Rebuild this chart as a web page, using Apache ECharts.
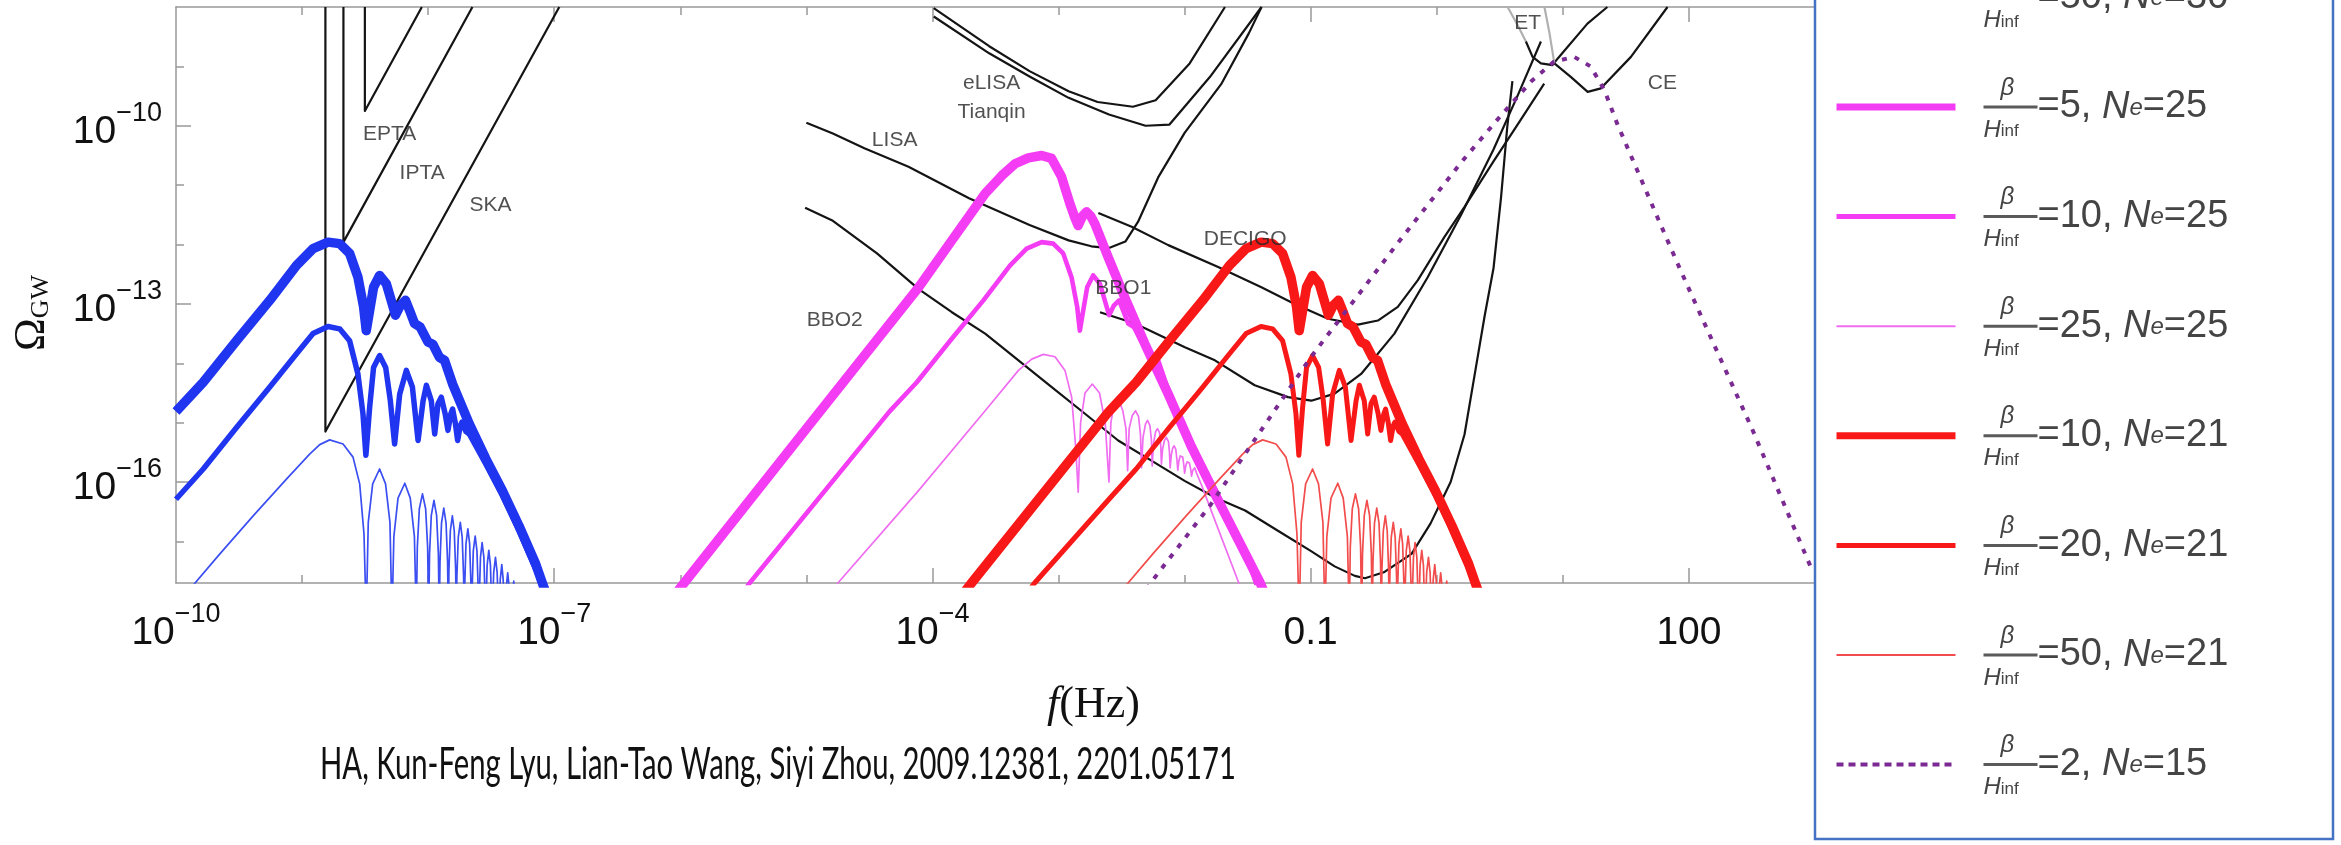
<!DOCTYPE html>
<html><head><meta charset="utf-8">
<script src="https://cdn.jsdelivr.net/npm/echarts@6/dist/echarts.min.js"></script>
<style>html,body{margin:0;padding:0;background:#fff}#c{width:2341px;height:845px}</style>
</head><body><div id="c"></div>
<script>
// ---- axis ticks (log10 exponents) ----
const X_LABEL_EXP = [-10, -7, -4, -1, 2];
const X_MINOR_EXP = [-9, -8, -6, -5, -3, -2, 0, 1];
const Y_LABEL_EXP = [-16, -13, -10];
const Y_MINOR_EXP = [-17, -15, -14, -12, -11, -9];

// ---- legend parameters ----
const LEG_BETA = [10, 20, 50, 5, 10, 25, 10, 20, 50, 2];
const LEG_NE   = [30, 30, 30, 25, 25, 25, 21, 21, 21, 15];

// ---- curves: [log10 f, log10 Omega] ----
const B10_30 = [[-10.0,-14.81],[-9.784,-14.32],[-9.52,-13.62],[-9.256,-12.94],[-9.044,-12.35],[-8.913,-12.07],[-8.794,-11.96],[-8.702,-11.985],[-8.623,-12.15],[-8.557,-12.55],[-8.512,-13.05],[-8.491,-13.45],[-8.464,-13.11],[-8.433,-12.72],[-8.385,-12.52],[-8.332,-12.66],[-8.293,-12.94],[-8.259,-13.19],[-8.222,-13.03],[-8.180,-12.94],[-8.140,-13.15],[-8.108,-13.33],[-8.063,-13.39],[-8.002,-13.64],[-7.963,-13.68],[-7.910,-13.90],[-7.870,-13.95],[-7.806,-14.35],[-7.674,-15.02],[-7.542,-15.61],[-7.410,-16.15],[-7.279,-16.74],[-7.147,-17.38],[-7.081,-17.78],[-7.0,-18.2]];
const B20_30 = [[-10.0,-16.29],[-9.784,-15.78],[-9.52,-15.08],[-9.256,-14.40],[-9.044,-13.84],[-8.913,-13.50],[-8.794,-13.38],[-8.702,-13.42],[-8.623,-13.62],[-8.557,-14.18],[-8.517,-14.85],[-8.494,-15.55],[-8.464,-14.74],[-8.433,-14.07],[-8.385,-13.87],[-8.337,-14.07],[-8.300,-14.63],[-8.266,-15.36],[-8.226,-14.52],[-8.173,-14.12],[-8.125,-14.40],[-8.080,-15.30],[-8.040,-14.63],[-8.014,-14.37],[-7.975,-14.63],[-7.948,-15.19],[-7.922,-14.68],[-7.896,-14.57],[-7.865,-14.85],[-7.843,-15.13],[-7.820,-14.85],[-7.806,-14.77],[-7.785,-15.0],[-7.766,-15.30],[-7.745,-15.05],[-7.732,-14.99],[-7.700,-15.15],[-7.674,-15.19],[-7.542,-15.70],[-7.410,-16.23],[-7.279,-16.82],[-7.147,-17.47],[-7.090,-17.78],[-7.0,-18.3]];
const B50_30 = [[-9.95,-18.2],[-9.889,-17.80],[-9.652,-17.21],[-9.388,-16.57],[-9.124,-15.95],[-8.94,-15.53],[-8.86,-15.37],[-8.781,-15.29],[-8.675,-15.36],[-8.596,-15.58],[-8.543,-16.03],[-8.509,-16.87],[-8.491,-18.3],
 [-8.475,-16.68],[-8.44,-16.03],[-8.385,-15.78],[-8.338,-16.03],[-8.303,-16.68],[-8.287,-18.3],
 [-8.272,-16.92],[-8.239,-16.27],[-8.185,-16.02],[-8.142,-16.27],[-8.109,-16.92],[-8.094,-18.3],
 [-8.086,-17.1],[-8.07,-16.45],[-8.045,-16.20],[-8.02,-16.45],[-8.004,-17.1],[-7.996,-18.3],
 [-7.989,-17.21],[-7.975,-16.56],[-7.954,-16.31],[-7.933,-16.56],[-7.919,-17.21],[-7.912,-18.3],
 [-7.906,-17.34],[-7.894,-16.69],[-7.876,-16.44],[-7.858,-16.69],[-7.846,-17.34],[-7.840,-18.3],
 [-7.835,-17.47],[-7.824,-16.82],[-7.808,-16.57],[-7.793,-16.82],[-7.782,-17.47],[-7.777,-18.3],
 [-7.772,-17.58],[-7.761,-16.93],[-7.745,-16.68],[-7.730,-16.93],[-7.719,-17.58],[-7.714,-18.3],
 [-7.709,-17.69],[-7.70,-17.04],[-7.685,-16.79],[-7.671,-17.04],[-7.661,-17.69],[-7.656,-18.3],
 [-7.651,-17.81],[-7.642,-17.16],[-7.627,-16.91],[-7.613,-17.16],[-7.603,-17.81],[-7.598,-18.3],
 [-7.594,-17.92],[-7.585,-17.27],[-7.572,-17.02],[-7.558,-17.27],[-7.549,-17.92],[-7.545,-18.3],
 [-7.541,-18.05],[-7.532,-17.40],[-7.519,-17.15],[-7.506,-17.40],[-7.497,-18.05],[-7.493,-18.3],
 [-7.48,-17.52],[-7.466,-17.27],[-7.453,-17.52],[-7.440,-18.3],
 [-7.428,-17.64],[-7.416,-17.39],[-7.405,-17.64],[-7.393,-18.3],
 [-7.381,-17.78],[-7.369,-17.53],[-7.357,-17.78],[-7.345,-18.3],
 [-7.333,-17.92],[-7.321,-17.67],[-7.309,-17.92],[-7.298,-18.3]];

const M5_25 = [[-6.08,-18.0],[-5.97,-17.7],[-5.0,-15.1],[-4.109,-12.72],[-3.846,-11.93],[-3.582,-11.14],[-3.45,-10.84],[-3.345,-10.64],[-3.24,-10.54],[-3.134,-10.50],[-3.055,-10.55],[-2.976,-10.86],[-2.910,-11.31],[-2.870,-11.55],[-2.844,-11.68],[-2.810,-11.52],[-2.778,-11.45],[-2.745,-11.52],[-2.712,-11.65],[-2.607,-12.21],[-2.475,-12.89],[-2.316,-13.67],[-2.132,-14.51],[-1.947,-15.40],[-1.734,-16.31],[-1.40,-17.7],[-1.30,-18.2]];
const M10_25 = [[-5.55,-18.0],[-5.45,-17.7],[-4.34,-14.81],[-4.124,-14.32],[-3.86,-13.62],[-3.596,-12.94],[-3.384,-12.35],[-3.253,-12.07],[-3.134,-11.96],[-3.042,-11.985],[-2.963,-12.15],[-2.897,-12.55],[-2.852,-13.05],[-2.831,-13.45],[-2.804,-13.11],[-2.773,-12.72],[-2.725,-12.52],[-2.672,-12.66],[-2.633,-12.94],[-2.599,-13.19],[-2.562,-13.03],[-2.520,-12.94],[-2.480,-13.15],[-2.448,-13.33],[-2.403,-13.39],[-2.342,-13.64],[-2.303,-13.68],[-2.250,-13.90],[-2.210,-13.95],[-2.146,-14.35],[-2.014,-15.02],[-1.882,-15.61],[-1.750,-16.15],[-1.619,-16.74],[-1.487,-17.38],[-1.421,-17.78],[-1.34,-18.2]];
const M25_25 = [[-4.85,-18.0],[-4.75,-17.7],[-4.109,-16.14],[-3.582,-14.80],[-3.318,-14.12],[-3.213,-13.93],[-3.120,-13.85],[-3.028,-13.89],[-2.949,-14.12],[-2.896,-14.57],[-2.864,-15.41],[-2.844,-16.17],
 [-2.825,-15.0],[-2.79,-14.5],[-2.732,-14.35],[-2.675,-14.5],[-2.63,-15.0],[-2.600,-16.00],
 [-2.585,-15.0],[-2.565,-14.75],[-2.526,-14.60],[-2.49,-14.8],[-2.465,-15.1],[-2.452,-15.81],
 [-2.44,-15.1],[-2.415,-14.88],[-2.389,-14.80],[-2.365,-14.9],[-2.35,-15.2],[-2.342,-15.76],
 [-2.33,-15.25],[-2.31,-15.02],[-2.294,-14.96],[-2.275,-15.05],[-2.263,-15.3],[-2.257,-15.73],
 [-2.247,-15.35],[-2.23,-15.15],[-2.215,-15.10],[-2.198,-15.17],[-2.189,-15.4],[-2.184,-15.70],
 [-2.175,-15.45],[-2.16,-15.3],[-2.144,-15.25],[-2.128,-15.32],[-2.12,-15.5],[-2.115,-15.76],
 [-2.106,-15.55],[-2.095,-15.43],[-2.083,-15.39],[-2.07,-15.45],[-2.062,-15.6],[-2.054,-15.80],
 [-2.046,-15.65],[-2.035,-15.56],[-2.025,-15.53],[-2.015,-15.58],[-2.007,-15.7],[-2.0,-15.85],
 [-1.99,-15.72],[-1.98,-15.66],[-1.972,-15.64],[-1.962,-15.68],[-1.952,-15.78],[-1.945,-15.9],
 [-1.935,-15.8],[-1.92,-15.76],[-1.905,-15.85],[-1.866,-16.05],[-1.75,-16.7],[-1.57,-17.7],[-1.50,-18.2]];

const R10_21 = [[-3.80,-18.0],[-3.69,-17.7],[-2.60,-14.81],[-2.384,-14.32],[-2.12,-13.62],[-1.856,-12.94],[-1.644,-12.35],[-1.513,-12.07],[-1.394,-11.96],[-1.302,-11.985],[-1.223,-12.15],[-1.157,-12.55],[-1.112,-13.05],[-1.091,-13.45],[-1.064,-13.11],[-1.033,-12.72],[-0.985,-12.52],[-0.932,-12.66],[-0.893,-12.94],[-0.859,-13.19],[-0.822,-13.03],[-0.780,-12.94],[-0.740,-13.15],[-0.708,-13.33],[-0.663,-13.39],[-0.602,-13.64],[-0.563,-13.68],[-0.510,-13.90],[-0.470,-13.95],[-0.406,-14.35],[-0.274,-15.02],[-0.142,-15.61],[-0.010,-16.15],[0.121,-16.74],[0.253,-17.38],[0.319,-17.78],[0.40,-18.2]];
const R20_21 = [[-3.30,-18.0],[-3.19,-17.7],[-2.60,-16.29],[-2.384,-15.78],[-2.12,-15.08],[-1.856,-14.40],[-1.644,-13.84],[-1.513,-13.50],[-1.394,-13.38],[-1.302,-13.42],[-1.223,-13.62],[-1.157,-14.18],[-1.117,-14.85],[-1.094,-15.55],[-1.064,-14.74],[-1.033,-14.07],[-0.985,-13.87],[-0.937,-14.07],[-0.900,-14.63],[-0.866,-15.36],[-0.826,-14.52],[-0.773,-14.12],[-0.725,-14.40],[-0.680,-15.30],[-0.640,-14.63],[-0.614,-14.37],[-0.575,-14.63],[-0.548,-15.19],[-0.522,-14.68],[-0.496,-14.57],[-0.465,-14.85],[-0.443,-15.13],[-0.420,-14.85],[-0.406,-14.77],[-0.385,-15.0],[-0.366,-15.30],[-0.345,-15.05],[-0.332,-14.99],[-0.300,-15.15],[-0.274,-15.19],[-0.142,-15.70],[-0.010,-16.23],[0.121,-16.82],[0.253,-17.47],[0.310,-17.78],[0.40,-18.3]];
const R50_21 = [[-2.55,-18.2],[-2.489,-17.80],[-2.252,-17.21],[-1.988,-16.57],[-1.724,-15.95],[-1.54,-15.53],[-1.46,-15.37],[-1.381,-15.29],[-1.275,-15.36],[-1.196,-15.58],[-1.143,-16.03],[-1.109,-16.87],[-1.091,-18.3],
 [-1.075,-16.68],[-1.04,-16.03],[-0.985,-15.78],[-0.938,-16.03],[-0.903,-16.68],[-0.887,-18.3],
 [-0.872,-16.92],[-0.839,-16.27],[-0.785,-16.02],[-0.742,-16.27],[-0.709,-16.92],[-0.694,-18.3],
 [-0.686,-17.1],[-0.67,-16.45],[-0.645,-16.20],[-0.62,-16.45],[-0.604,-17.1],[-0.596,-18.3],
 [-0.589,-17.21],[-0.575,-16.56],[-0.554,-16.31],[-0.533,-16.56],[-0.519,-17.21],[-0.512,-18.3],
 [-0.506,-17.34],[-0.494,-16.69],[-0.476,-16.44],[-0.458,-16.69],[-0.446,-17.34],[-0.440,-18.3],
 [-0.435,-17.47],[-0.424,-16.82],[-0.408,-16.57],[-0.393,-16.82],[-0.382,-17.47],[-0.377,-18.3],
 [-0.372,-17.58],[-0.361,-16.93],[-0.345,-16.68],[-0.330,-16.93],[-0.319,-17.58],[-0.314,-18.3],
 [-0.309,-17.69],[-0.300,-17.04],[-0.285,-16.79],[-0.271,-17.04],[-0.261,-17.69],[-0.256,-18.3],
 [-0.251,-17.81],[-0.242,-17.16],[-0.227,-16.91],[-0.213,-17.16],[-0.203,-17.81],[-0.198,-18.3],
 [-0.194,-17.92],[-0.185,-17.27],[-0.172,-17.02],[-0.158,-17.27],[-0.149,-17.92],[-0.145,-18.3],
 [-0.141,-18.05],[-0.132,-17.40],[-0.119,-17.15],[-0.106,-17.40],[-0.097,-18.05],[-0.093,-18.3],
 [-0.08,-17.52],[-0.066,-17.27],[-0.053,-17.52],[-0.040,-18.3],
 [-0.028,-17.64],[-0.016,-17.39],[-0.005,-17.64],[0.007,-18.3],
 [0.019,-17.78],[0.031,-17.53],[0.043,-17.78],[0.055,-18.3],
 [0.067,-17.92],[0.079,-17.67],[0.091,-17.92],[0.102,-18.3]];
const P2_15 = [[-2.35,-18.0],[-2.27,-17.7],[-1.8,-16.4],[-1.0,-13.9],[-0.3,-11.95],[0.2,-10.6],[0.5,-9.85],[0.75,-9.25],[0.93,-8.92],[1.09,-8.84],[1.22,-9.0],[1.33,-9.4],[1.43,-9.96],[1.59,-10.75],[1.75,-11.54],[1.91,-12.32],[2.03,-12.89],[2.5,-15.1],[2.98,-17.5]];

// ---- detector sensitivity curves ----
const EPTA = [[-8.502,-8.0],[-8.502,-9.75],[-8.05,-8.0]];
const IPTA = [[-8.672,-8.0],[-8.672,-11.96],[-7.649,-8.0]];
const SKA  = [[-8.815,-8.0],[-8.815,-15.15],[-6.96,-8.0]];
const LISA = [[-5.0,-9.95],[-4.79,-10.13],[-4.54,-10.38],[-4.19,-10.69],[-3.71,-11.22],[-3.23,-11.67],[-2.92,-11.93],[-2.74,-12.03],[-2.60,-12.06],[-2.47,-11.95],[-2.37,-11.62],[-2.21,-10.87],[-2.0,-10.12],[-1.71,-9.3],[-1.49,-8.44],[-1.39,-8.0]];
const ELISA = [[-3.99,-8.02],[-3.55,-8.66],[-3.23,-9.08],[-2.92,-9.42],[-2.69,-9.6],[-2.41,-9.68],[-2.23,-9.57],[-1.96,-8.95],[-1.68,-8.0]];
const TIANQIN = [[-3.99,-8.16],[-3.55,-8.78],[-3.23,-9.17],[-2.92,-9.53],[-2.6,-9.81],[-2.31,-10.0],[-2.12,-9.98],[-1.8,-9.18],[-1.39,-8.0]];
const BBO2 = [[-5.01,-11.38],[-4.79,-11.6],[-4.44,-12.15],[-4.109,-12.75],[-3.846,-13.14],[-3.582,-13.50],[-3.318,-13.95],[-3.054,-14.40],[-2.79,-14.85],[-2.527,-15.30],[-2.263,-15.64],[-2.0,-15.98],[-1.75,-16.27],[-1.52,-16.48],[-1.26,-16.82],[-1.0,-17.16],[-0.81,-17.42],[-0.65,-17.58],[-0.57,-17.62],[-0.42,-17.52],[-0.2,-17.21],[-0.05,-16.7],[0.11,-16.0],[0.22,-15.2],[0.30,-14.2],[0.38,-13.2],[0.45,-12.4],[0.51,-11.2],[0.56,-10.0],[0.60,-9.25]];
const BBO1 = [[-2.671,-13.14],[-2.394,-13.33],[-1.998,-13.73],[-1.76,-13.95],[-1.444,-14.37],[-1.18,-14.57],[-0.995,-14.63],[-0.81,-14.51],[-0.60,-14.18],[-0.336,-13.50],[-0.072,-12.55],[0.193,-11.5],[0.45,-10.4],[0.65,-9.45],[0.826,-8.58]];
const DECIGO = [[-2.684,-11.47],[-2.42,-11.70],[-2.13,-12.01],[-1.734,-12.38],[-1.391,-12.72],[-1.127,-13.0],[-0.863,-13.25],[-0.625,-13.35],[-0.467,-13.28],[-0.309,-13.05],[-0.15,-12.60],[0.061,-11.87],[0.219,-11.37],[0.45,-10.6],[0.65,-9.95],[0.852,-9.29]];
const ET_GREY = [[0.562,-8.0],[0.64,-8.3],[0.707,-8.58]];
const ET = [[0.707,-8.58],[0.760,-8.84],[0.826,-8.95],[0.918,-8.98],[0.958,-8.87],[1.195,-8.28],[1.353,-8.0]];
const CE_GREY = [[0.854,-8.0],[0.894,-8.44],[0.933,-8.95]];
const CE = [[0.933,-8.95],[1.065,-9.18],[1.197,-9.43],[1.302,-9.37],[1.54,-8.84],[1.83,-8.0]];

const DET_LABELS = [['EPTA',-8.306,-10.14],['IPTA',-8.048,-10.80],['SKA',-7.506,-11.33],['eLISA',-3.531,-9.29],['Tianqin',-3.531,-9.77],['LISA',-4.30,-10.24],['BBO2',-4.775,-13.27],['BBO1',-2.486,-12.74],['DECIGO',-1.52,-11.91],['ET',0.72,-8.27],['CE',1.79,-9.29]];

const CREDIT = 'HA, Kun-Feng Lyu, Lian-Tao Wang, Siyi Zhou, 2009.12381, 2201.05171';

// ---- styling ----
const BLUE='#2035f0', BLUE_T='#3b4ef2', MAG='#f43cf4', MAG_T='#f06cf0', RED='#f81818', RED_T='#f24c4c', PURP='#7a2a92', BLK='#141414', GREY='#999999';
const SANS = 'Liberation Sans, Arial, sans-serif';
const SERIF = 'Liberation Serif, Times New Roman, serif';

const colored = [
  {name:'b10_30', data:B10_30, color:BLUE, w:9.5},
  {name:'b20_30', data:B20_30, color:BLUE, w:5.5},
  {name:'b50_30', data:B50_30, color:BLUE_T, w:1.7},
  {name:'m5_25', data:M5_25, color:MAG, w:9.5},
  {name:'m10_25', data:M10_25, color:MAG, w:4.6},
  {name:'m25_25', data:M25_25, color:MAG_T, w:1.7},
  {name:'r10_21', data:R10_21, color:RED, w:9.5},
  {name:'r20_21', data:R20_21, color:RED, w:5},
  {name:'r50_21', data:R50_21, color:RED_T, w:1.7},
  {name:'p2_15', data:P2_15, color:PURP, w:4, type:[5,8]}
];
const legendW = [7, 5, 2, 7, 5, 2, 7, 5, 2, 4];
const black = [
  [EPTA,BLK],[IPTA,BLK],[SKA,BLK],[LISA,BLK],[ELISA,BLK],[TIANQIN,BLK],[BBO2,BLK],[BBO1,BLK],[DECIGO,BLK],[ET_GREY,'#b0b0b0'],[ET,BLK],[CE_GREY,'#b0b0b0'],[CE,BLK]
];

const series = [];
black.forEach((b,i)=>series.push({type:'line', name:'det'+i, data:b[0], symbol:'none', showSymbol:false, clip:true, silent:true, z:2,
  lineStyle:{color:b[1], width:2.2, join:'round'}}));
colored.forEach(c=>series.push({type:'line', name:c.name, data:c.data, symbol:'none', showSymbol:false, clip:true, silent:true, z:3,
  itemStyle:{color:c.color},
  lineStyle:{color:c.color, width:c.w, type:c.type||'solid', join:'round', cap:'butt'}}));
series.push({type:'scatter', name:'labels', z:5, silent:true, symbol:'circle', symbolSize:1, itemStyle:{color:'rgba(0,0,0,0)'},
  data: DET_LABELS.map(l=>({name:l[0], value:[l[1],l[2]]})),
  label:{show:true, position:'inside', formatter:'{b}', fontFamily:SANS, fontSize:21, color:'#262626'}});

function expLabel(v){
  const r = Math.round(v);
  if (Math.abs(v-r) > 1e-6) return '';
  if (r === -1) return '{b|0.1}';
  if (r === 2) return '{b|100}';
  return '{b|10}{s|\u2212' + (-r) + '}';
}
const TICK_RICH = {
  b:{fontFamily:SANS, fontSize:39, color:'#111', lineHeight:52, verticalAlign:'bottom'},
  s:{fontFamily:SANS, fontSize:27, color:'#111', lineHeight:22, verticalAlign:'top'}
};
const lineS = {color:GREY, width:1.5};
function xAx(pos, showLine, ticks, len, labels){
  const a = {type:'value', min:-10, max:3, position:pos, splitLine:{show:false},
    axisLine:{show:showLine, onZero:false, lineStyle:lineS},
    axisTick:{show:true, inside:true, length:len, customValues:ticks, lineStyle:lineS},
    axisLabel:{show:!!labels}};
  if (labels) a.axisLabel = {show:true, customValues:labels, formatter:expLabel, margin:18, rich:TICK_RICH, showMinLabel:true, showMaxLabel:true, hideOverlap:false};
  return a;
}
function yAx(pos, showLine, ticks, len, labels){
  const a = {type:'value', min:-17.7, max:-8, position:pos, splitLine:{show:false},
    axisLine:{show:showLine, onZero:false, lineStyle:lineS},
    axisTick:{show:!!ticks, inside:true, length:len, customValues:ticks||[], lineStyle:lineS},
    axisLabel:{show:!!labels}};
  if (labels) a.axisLabel = {show:true, customValues:labels, formatter:expLabel, margin:14, rich:TICK_RICH, showMinLabel:true, showMaxLabel:true, hideOverlap:false};
  return a;
}
const xMain = xAx('bottom', true, X_MINOR_EXP, 8, X_LABEL_EXP);
xMain.name = '{f|f}{h|(Hz)}';
xMain.nameLocation = 'middle';
xMain.nameGap = 97;
xMain.nameMoveOverlap = false;
xMain.nameTextStyle = {padding:[0,0,0,196], rich:{
  f:{fontFamily:SERIF, fontStyle:'italic', fontSize:44, lineHeight:50, color:'#111'},
  h:{fontFamily:SERIF, fontSize:44, lineHeight:50, color:'#111'}}};
const yMain = yAx('left', true, Y_MINOR_EXP, 8, Y_LABEL_EXP);
yMain.name = '{o|\u03a9}{g|GW}';
yMain.nameLocation = 'middle';
yMain.nameRotate = 90;
yMain.nameGap = 122;
yMain.nameMoveOverlap = false;
yMain.nameTextStyle = {padding:[0,36,0,0], rich:{
  o:{fontFamily:SERIF, fontSize:44, lineHeight:44, color:'#111'},
  g:{fontFamily:SERIF, fontSize:26, lineHeight:1, verticalAlign:'bottom', color:'#111'}}};

const legendData = colored.map((c,i)=>({name:c.name, itemStyle:{opacity:0}, lineStyle:{width:legendW[i], color:c.color, type:c.type==null?'solid':[7,5], cap:'butt'}}));

// credit text: condensed look by horizontal scaling to its measured span
const CREDIT_FONT = '44px Lato';
const mctx = document.createElement('canvas').getContext('2d');
mctx.font = CREDIT_FONT;
const creditScale = 916 / mctx.measureText(CREDIT).width;

const option = {
  animation:false,
  backgroundColor:'#fff',
  grid:{left:176, top:7, width:1639, height:576, outerBoundsMode:'none'},
  xAxis:[xMain, xAx('bottom', false, X_LABEL_EXP.slice(1), 15, null), xAx('top', true, X_MINOR_EXP, 8, null), xAx('top', false, X_LABEL_EXP.slice(1), 15, null)],
  yAxis:[yMain, yAx('left', false, Y_LABEL_EXP, 15, null), yAx('right', true, null, 0, null)],
  legend:{orient:'vertical', left:1833, top:-252.8, padding:0, itemWidth:119, itemHeight:66, itemGap:43.6, selectedMode:false, z:60,
    itemStyle:{opacity:0},
    data:legendData,
    formatter:function(name){
      const i = colored.findIndex(c=>c.name===name);
      return '{be|\u03b2}\n{bar|}{t|=' + LEG_BETA[i] + ', }{N|N}{e|e}{t|=' + LEG_NE[i] + '}\n{H|H}{inf|inf}';
    },
    textStyle:{padding:[8,0,0,23], color:'#444', rich:{
      be:{fontFamily:SANS, fontStyle:'italic', fontSize:24, lineHeight:12, color:'#444', padding:[0,0,0,17]},
      bar:{width:54, height:3, lineHeight:3, backgroundColor:'#5a5a5a'},
      t:{fontFamily:SANS, fontSize:38, lineHeight:26, color:'#444'},
      N:{fontFamily:SANS, fontStyle:'italic', fontSize:38, lineHeight:26, color:'#444'},
      e:{fontFamily:SANS, fontStyle:'italic', fontSize:24, lineHeight:1, verticalAlign:'bottom', color:'#444'},
      H:{fontFamily:SANS, fontStyle:'italic', fontSize:24, lineHeight:20, color:'#444'},
      inf:{fontFamily:SANS, fontSize:17, lineHeight:10, verticalAlign:'bottom', color:'#444'}
    }}},
  graphic:[
    {type:'rect', z:50, shape:{x:1815, y:-10, width:518, height:849}, style:{fill:'#fff', stroke:'#4472c4', lineWidth:2.5}},
    {type:'text', z:50, x:320, y:765, scaleX:creditScale, style:{text:CREDIT, font:CREDIT_FONT, fill:'#111', align:'left', verticalAlign:'middle'}}
  ],
  series:series
};
const chart = echarts.init(document.getElementById('c'), null, {renderer:'canvas', width:2341, height:845});
chart.setOption(option);
</script></body></html>
